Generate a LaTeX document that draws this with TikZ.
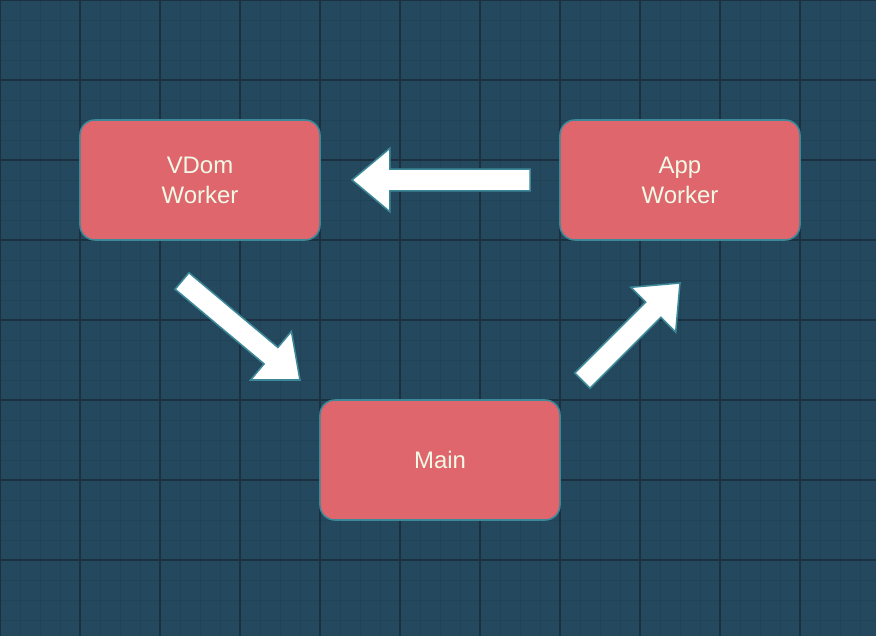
\documentclass[tikz,border=0pt]{standalone}
\usepackage{fontspec}
\setmainfont{Liberation Sans}
\usetikzlibrary{shapes.arrows}
\definecolor{bgblue}{HTML}{24495E}
\definecolor{gridminor}{HTML}{214358}
\definecolor{gridmajor}{HTML}{1C3140}
\definecolor{boxred}{HTML}{E0666E}
\definecolor{edgeteal}{HTML}{3C8898}
\definecolor{textcream}{HTML}{F0FAE6}

\begin{document}
\begin{tikzpicture}[x=0.025cm,y=-0.025cm,
  box/.style={rectangle,rounded corners=0.375cm,minimum width=6cm,minimum height=3cm,
    fill=boxred,draw=edgeteal,line width=1.1pt,text=textcream,align=center,
    font=\fontsize{17}{21.3}\selectfont},
  blockarrow/.style={single arrow,fill=white,draw=edgeteal,line width=1.1pt,
    inner xsep=0pt,inner ysep=0.25cm,text height=0pt,text depth=0pt,outer sep=0pt,
    single arrow head extend=0.525cm,single arrow tip angle=80}]
\useasboundingbox (0,0) rectangle (876,636);
\fill[bgblue] (0,0) rectangle (876,636);
% grid
\foreach \x in {20,40,...,860} \draw[gridminor,line width=0.6pt] (\x,0) -- (\x,636);
\foreach \y in {20,40,...,620} \draw[gridminor,line width=0.6pt] (0,\y) -- (876,\y);
\foreach \x in {0,80,...,800} \draw[gridmajor,line width=0.8pt] (\x,0) -- (\x,636);
\foreach \y in {0,80,...,560} \draw[gridmajor,line width=0.8pt] (0,\y) -- (876,\y);
% boxes
\node[box] (vdom) at (200,180) {VDom\\Worker};
\node[box] (app) at (680,180) {App\\Worker};
\node[box] (main) at (440,460) {Main};
% block arrows
\node[blockarrow,minimum height=4.45cm,rotate=180,anchor=tip] (apptovdom) at (352,180) {};
\node[blockarrow,minimum height=3.85cm,rotate=-40,anchor=tip] (vdomtomain) at (300,380) {};
\node[blockarrow,minimum height=3.45cm,rotate=45,anchor=tip] (maintoapp) at (680,283) {};
\end{tikzpicture}
\end{document}
